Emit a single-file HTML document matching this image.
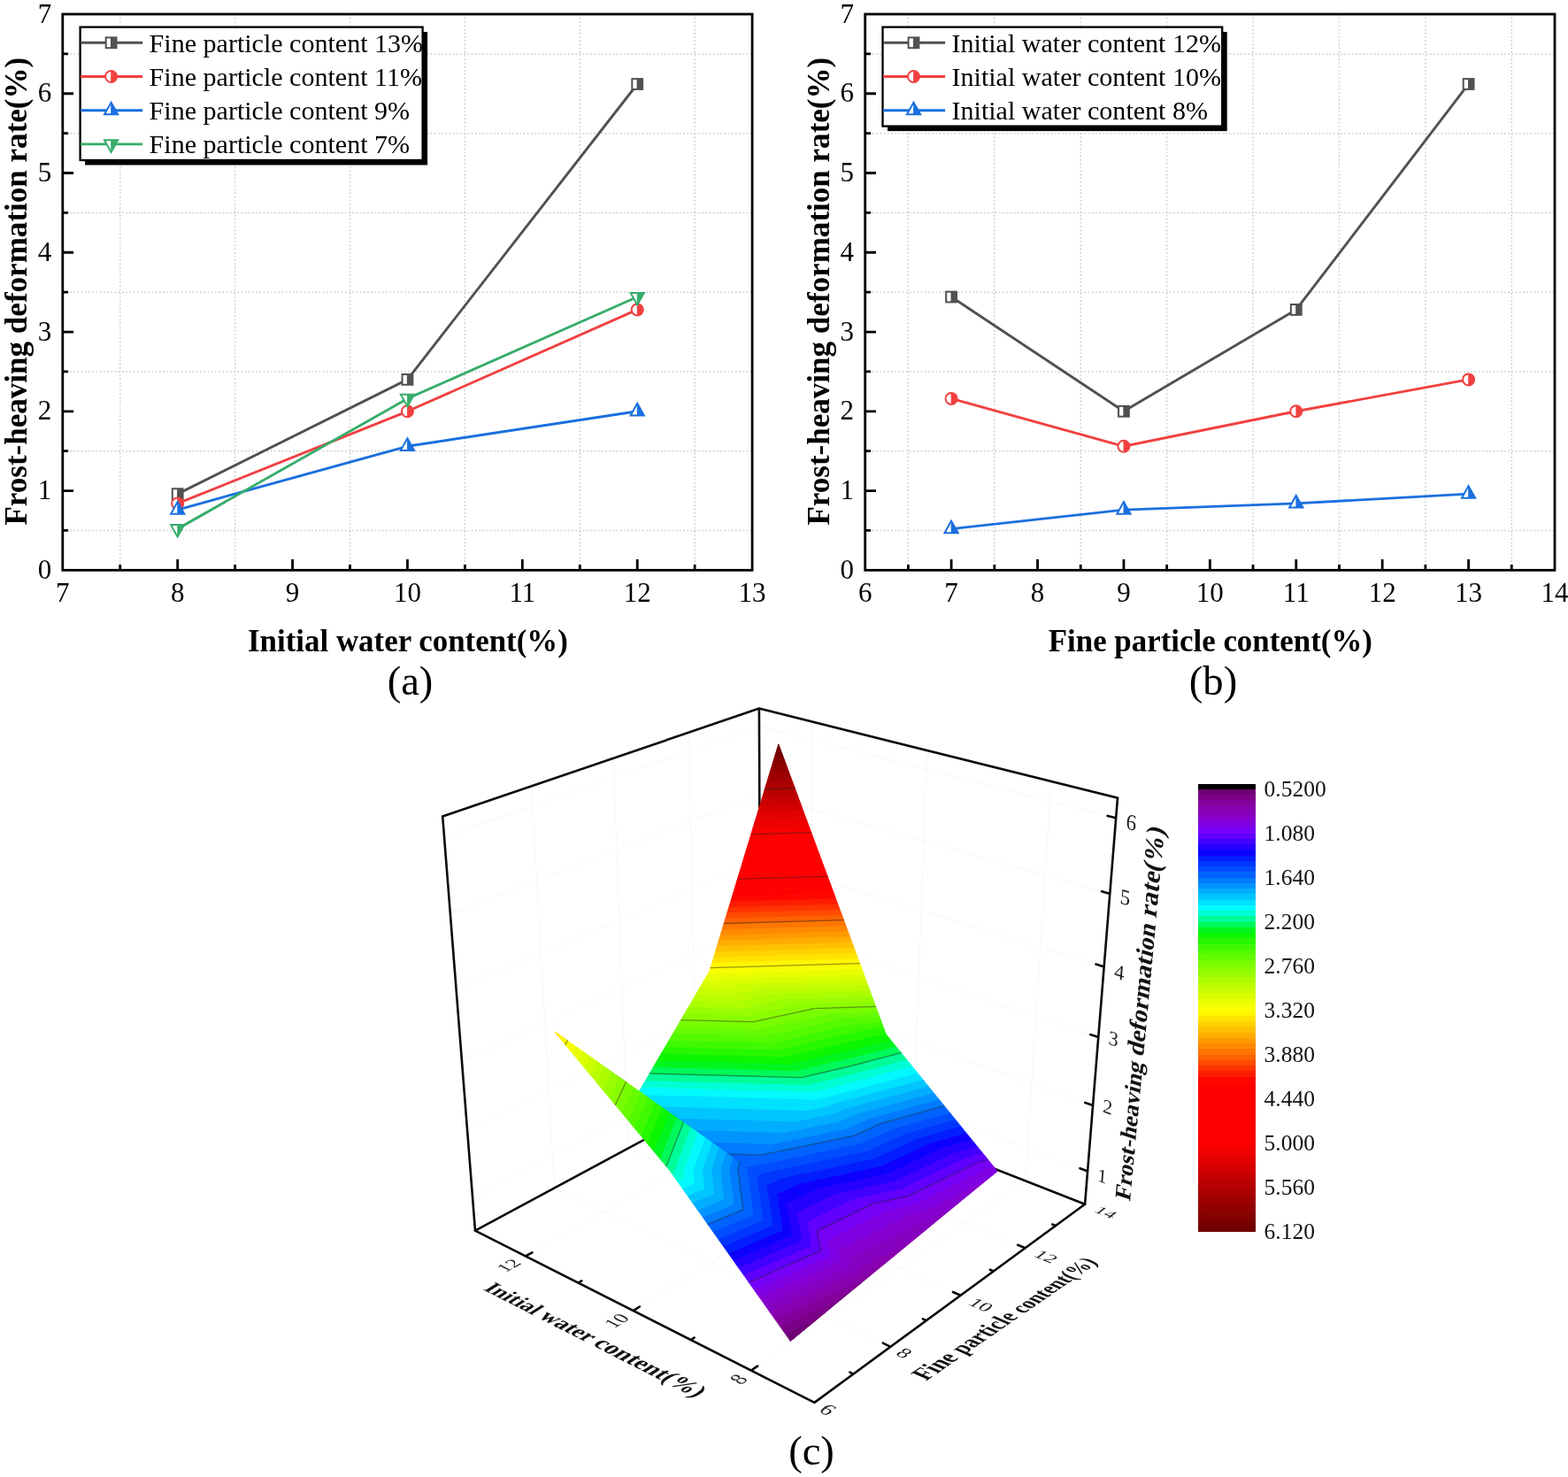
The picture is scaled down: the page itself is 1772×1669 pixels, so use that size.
<!DOCTYPE html>
<html lang="en"><head><meta charset="utf-8"><title>Frost-heaving deformation rate</title>
<style>
html,body{margin:0;padding:0;background:#fff;}
svg{display:block;font-family:'Liberation Serif','Times New Roman',serif;}
.tk{font-size:31px;fill:#000}
.ax{font-size:34.9px;font-weight:bold;fill:#000}
.lg{font-size:30.05px;fill:#000}
.tag{font-size:46.6px;fill:#000}
.cb{font-size:25.5px;fill:#111}
.t3{font-weight:bold;fill:#111}
.k3{fill:#222}
</style></head><body>
<svg width="1772" height="1669" viewBox="0 0 1772 1669" role="img" aria-label="Frost-heaving deformation rate charts">
<rect width="1772" height="1669" fill="#fff"/>
<g class="chart">
<path d="M135.74 16.00V644.30M265.63 16.00V644.30M395.51 16.00V644.30M525.39 16.00V644.30M655.28 16.00V644.30M785.16 16.00V644.30M70.80 599.42H850.10M70.80 509.66H850.10M70.80 419.91H850.10M70.80 330.15H850.10M70.80 240.39H850.10M70.80 150.64H850.10M70.80 60.88H850.10" fill="none" stroke="#c9c9c9" stroke-width="1.5" stroke-dasharray="1.6 2.6"/>
<path d="M135.74 644.30v-6.3M200.68 644.30v-12.3M265.63 644.30v-6.3M330.57 644.30v-12.3M395.51 644.30v-6.3M460.45 644.30v-12.3M525.39 644.30v-6.3M590.33 644.30v-12.3M655.28 644.30v-6.3M720.22 644.30v-12.3M785.16 644.30v-6.3M70.80 599.42h6.3M70.80 554.54h12.3M70.80 509.66h6.3M70.80 464.79h12.3M70.80 419.91h6.3M70.80 375.03h12.3M70.80 330.15h6.3M70.80 285.27h12.3M70.80 240.39h6.3M70.80 195.51h12.3M70.80 150.64h6.3M70.80 105.76h12.3M70.80 60.88h6.3" fill="none" stroke="#000" stroke-width="2.8"/>
<path d="M200.68 558.13 L460.45 428.88 L720.22 94.99" fill="none" stroke="#515151" stroke-width="2.9" stroke-linejoin="round"/>
<path d="M200.68 568.90 L460.45 464.79 L720.22 349.90" fill="none" stroke="#F14040" stroke-width="2.9" stroke-linejoin="round"/>
<path d="M200.68 576.08 L460.45 504.28 L720.22 464.79" fill="none" stroke="#1A6FDF" stroke-width="2.9" stroke-linejoin="round"/>
<path d="M200.68 597.63 L460.45 450.42 L720.22 335.54" fill="none" stroke="#37AD6B" stroke-width="2.9" stroke-linejoin="round"/>
<rect x="194.78" y="552.23" width="11.80" height="11.80" fill="#fff" stroke="#515151" stroke-width="2.0"/><rect x="200.08" y="552.23" width="6.50" height="11.80" fill="#515151"/>
<rect x="454.55" y="422.98" width="11.80" height="11.80" fill="#fff" stroke="#515151" stroke-width="2.0"/><rect x="459.85" y="422.98" width="6.50" height="11.80" fill="#515151"/>
<rect x="714.32" y="89.09" width="11.80" height="11.80" fill="#fff" stroke="#515151" stroke-width="2.0"/><rect x="719.62" y="89.09" width="6.50" height="11.80" fill="#515151"/>
<circle cx="200.68" cy="568.90" r="6.5" fill="#fff" stroke="#F14040" stroke-width="2.0"/><path d="M200.28 562.40 A6.5 6.5 0 0 1 200.28 575.40 Z" fill="#F14040"/>
<circle cx="460.45" cy="464.79" r="6.5" fill="#fff" stroke="#F14040" stroke-width="2.0"/><path d="M460.05 458.29 A6.5 6.5 0 0 1 460.05 471.29 Z" fill="#F14040"/>
<circle cx="720.22" cy="349.90" r="6.5" fill="#fff" stroke="#F14040" stroke-width="2.0"/><path d="M719.82 343.40 A6.5 6.5 0 0 1 719.82 356.40 Z" fill="#F14040"/>
<path d="M200.68 567.08 L208.28 580.68 L193.08 580.68 Z" fill="#fff" stroke="#1A6FDF" stroke-width="2.0" stroke-linejoin="miter"/><path d="M200.28 567.08 L208.28 580.68 L200.28 580.68 Z" fill="#1A6FDF"/>
<path d="M460.45 495.28 L468.05 508.88 L452.85 508.88 Z" fill="#fff" stroke="#1A6FDF" stroke-width="2.0" stroke-linejoin="miter"/><path d="M460.05 495.28 L468.05 508.88 L460.05 508.88 Z" fill="#1A6FDF"/>
<path d="M720.22 455.79 L727.82 469.39 L712.62 469.39 Z" fill="#fff" stroke="#1A6FDF" stroke-width="2.0" stroke-linejoin="miter"/><path d="M719.82 455.79 L727.82 469.39 L719.82 469.39 Z" fill="#1A6FDF"/>
<path d="M200.68 606.63 L208.28 593.03 L193.08 593.03 Z" fill="#fff" stroke="#37AD6B" stroke-width="2.0" stroke-linejoin="miter"/><path d="M200.28 606.63 L208.28 593.03 L200.28 593.03 Z" fill="#37AD6B"/>
<path d="M460.45 459.42 L468.05 445.82 L452.85 445.82 Z" fill="#fff" stroke="#37AD6B" stroke-width="2.0" stroke-linejoin="miter"/><path d="M460.05 459.42 L468.05 445.82 L460.05 445.82 Z" fill="#37AD6B"/>
<path d="M720.22 344.54 L727.82 330.94 L712.62 330.94 Z" fill="#fff" stroke="#37AD6B" stroke-width="2.0" stroke-linejoin="miter"/><path d="M719.82 344.54 L727.82 330.94 L719.82 330.94 Z" fill="#37AD6B"/>
<rect x="70.80" y="16.00" width="779.30" height="628.30" fill="none" stroke="#000" stroke-width="2.8"/>
<text x="70.80" y="680.30" text-anchor="middle" class="tk">7</text>
<text x="200.68" y="680.30" text-anchor="middle" class="tk">8</text>
<text x="330.57" y="680.30" text-anchor="middle" class="tk">9</text>
<text x="460.45" y="680.30" text-anchor="middle" class="tk">10</text>
<text x="590.33" y="680.30" text-anchor="middle" class="tk">11</text>
<text x="720.22" y="680.30" text-anchor="middle" class="tk">12</text>
<text x="850.10" y="680.30" text-anchor="middle" class="tk">13</text>
<text x="58.20" y="653.80" text-anchor="end" class="tk">0</text>
<text x="58.20" y="564.04" text-anchor="end" class="tk">1</text>
<text x="58.20" y="474.29" text-anchor="end" class="tk">2</text>
<text x="58.20" y="384.53" text-anchor="end" class="tk">3</text>
<text x="58.20" y="294.77" text-anchor="end" class="tk">4</text>
<text x="58.20" y="205.01" text-anchor="end" class="tk">5</text>
<text x="58.20" y="115.26" text-anchor="end" class="tk">6</text>
<text x="58.20" y="25.50" text-anchor="end" class="tk">7</text>
<text x="460.95" y="735.80" text-anchor="middle" class="ax">Initial water content(%)</text>
<text transform="translate(30.20 329.15) rotate(-90)" text-anchor="middle" class="ax" style="font-size:35.05px">Frost-heaving deformation rate(%)</text>
<text x="463.50" y="785.30" text-anchor="middle" class="tag">(a)</text>
<rect x="96.10" y="36.10" width="387.00" height="150.40" fill="#000"/>
<rect x="90.60" y="30.60" width="387.00" height="150.40" fill="#fff" stroke="#000" stroke-width="2.3"/>
<path d="M91.10 48.30H161.20" stroke="#515151" stroke-width="2.9"/>
<rect x="119.70" y="42.40" width="11.80" height="11.80" fill="#fff" stroke="#515151" stroke-width="2.0"/><rect x="125.00" y="42.40" width="6.50" height="11.80" fill="#515151"/>
<text x="168.60" y="58.50" class="lg">Fine particle content 13%</text>
<path d="M91.10 86.50H161.20" stroke="#F14040" stroke-width="2.9"/>
<circle cx="125.60" cy="86.50" r="6.5" fill="#fff" stroke="#F14040" stroke-width="2.0"/><path d="M125.20 80.00 A6.5 6.5 0 0 1 125.20 93.00 Z" fill="#F14040"/>
<text x="168.60" y="96.70" class="lg">Fine particle content 11%</text>
<path d="M91.10 124.70H161.20" stroke="#1A6FDF" stroke-width="2.9"/>
<path d="M125.60 115.70 L133.20 129.30 L118.00 129.30 Z" fill="#fff" stroke="#1A6FDF" stroke-width="2.0" stroke-linejoin="miter"/><path d="M125.20 115.70 L133.20 129.30 L125.20 129.30 Z" fill="#1A6FDF"/>
<text x="168.60" y="134.90" class="lg">Fine particle content 9%</text>
<path d="M91.10 162.90H161.20" stroke="#37AD6B" stroke-width="2.9"/>
<path d="M125.60 171.90 L133.20 158.30 L118.00 158.30 Z" fill="#fff" stroke="#37AD6B" stroke-width="2.0" stroke-linejoin="miter"/><path d="M125.20 171.90 L133.20 158.30 L125.20 158.30 Z" fill="#37AD6B"/>
<text x="168.60" y="173.10" class="lg">Fine particle content 7%</text>
</g>
<g class="chart">
<path d="M1026.41 16.00V644.30M1123.82 16.00V644.30M1221.23 16.00V644.30M1318.64 16.00V644.30M1416.06 16.00V644.30M1513.47 16.00V644.30M1610.88 16.00V644.30M1708.29 16.00V644.30M977.70 599.42H1757.00M977.70 509.66H1757.00M977.70 419.91H1757.00M977.70 330.15H1757.00M977.70 240.39H1757.00M977.70 150.64H1757.00M977.70 60.88H1757.00" fill="none" stroke="#c9c9c9" stroke-width="1.5" stroke-dasharray="1.6 2.6"/>
<path d="M1026.41 644.30v-6.3M1075.11 644.30v-12.3M1123.82 644.30v-6.3M1172.53 644.30v-12.3M1221.23 644.30v-6.3M1269.94 644.30v-12.3M1318.64 644.30v-6.3M1367.35 644.30v-12.3M1416.06 644.30v-6.3M1464.76 644.30v-12.3M1513.47 644.30v-6.3M1562.17 644.30v-12.3M1610.88 644.30v-6.3M1659.59 644.30v-12.3M1708.29 644.30v-6.3M977.70 599.42h6.3M977.70 554.54h12.3M977.70 509.66h6.3M977.70 464.79h12.3M977.70 419.91h6.3M977.70 375.03h12.3M977.70 330.15h6.3M977.70 285.27h12.3M977.70 240.39h6.3M977.70 195.51h12.3M977.70 150.64h6.3M977.70 105.76h12.3M977.70 60.88h6.3" fill="none" stroke="#000" stroke-width="2.8"/>
<path d="M1075.11 335.54 L1269.94 464.79 L1464.76 349.90 L1659.59 94.99" fill="none" stroke="#515151" stroke-width="2.9" stroke-linejoin="round"/>
<path d="M1075.11 450.42 L1269.94 504.28 L1464.76 464.79 L1659.59 428.88" fill="none" stroke="#F14040" stroke-width="2.9" stroke-linejoin="round"/>
<path d="M1075.11 597.63 L1269.94 576.08 L1464.76 568.90 L1659.59 558.13" fill="none" stroke="#1A6FDF" stroke-width="2.9" stroke-linejoin="round"/>
<rect x="1069.21" y="329.64" width="11.80" height="11.80" fill="#fff" stroke="#515151" stroke-width="2.0"/><rect x="1074.51" y="329.64" width="6.50" height="11.80" fill="#515151"/>
<rect x="1264.04" y="458.89" width="11.80" height="11.80" fill="#fff" stroke="#515151" stroke-width="2.0"/><rect x="1269.34" y="458.89" width="6.50" height="11.80" fill="#515151"/>
<rect x="1458.86" y="344.00" width="11.80" height="11.80" fill="#fff" stroke="#515151" stroke-width="2.0"/><rect x="1464.16" y="344.00" width="6.50" height="11.80" fill="#515151"/>
<rect x="1653.69" y="89.09" width="11.80" height="11.80" fill="#fff" stroke="#515151" stroke-width="2.0"/><rect x="1658.99" y="89.09" width="6.50" height="11.80" fill="#515151"/>
<circle cx="1075.11" cy="450.42" r="6.5" fill="#fff" stroke="#F14040" stroke-width="2.0"/><path d="M1074.71 443.92 A6.5 6.5 0 0 1 1074.71 456.92 Z" fill="#F14040"/>
<circle cx="1269.94" cy="504.28" r="6.5" fill="#fff" stroke="#F14040" stroke-width="2.0"/><path d="M1269.54 497.78 A6.5 6.5 0 0 1 1269.54 510.78 Z" fill="#F14040"/>
<circle cx="1464.76" cy="464.79" r="6.5" fill="#fff" stroke="#F14040" stroke-width="2.0"/><path d="M1464.36 458.29 A6.5 6.5 0 0 1 1464.36 471.29 Z" fill="#F14040"/>
<circle cx="1659.59" cy="428.88" r="6.5" fill="#fff" stroke="#F14040" stroke-width="2.0"/><path d="M1659.19 422.38 A6.5 6.5 0 0 1 1659.19 435.38 Z" fill="#F14040"/>
<path d="M1075.11 588.63 L1082.71 602.23 L1067.51 602.23 Z" fill="#fff" stroke="#1A6FDF" stroke-width="2.0" stroke-linejoin="miter"/><path d="M1074.71 588.63 L1082.71 602.23 L1074.71 602.23 Z" fill="#1A6FDF"/>
<path d="M1269.94 567.08 L1277.54 580.68 L1262.34 580.68 Z" fill="#fff" stroke="#1A6FDF" stroke-width="2.0" stroke-linejoin="miter"/><path d="M1269.54 567.08 L1277.54 580.68 L1269.54 580.68 Z" fill="#1A6FDF"/>
<path d="M1464.76 559.90 L1472.36 573.50 L1457.16 573.50 Z" fill="#fff" stroke="#1A6FDF" stroke-width="2.0" stroke-linejoin="miter"/><path d="M1464.36 559.90 L1472.36 573.50 L1464.36 573.50 Z" fill="#1A6FDF"/>
<path d="M1659.59 549.13 L1667.19 562.73 L1651.99 562.73 Z" fill="#fff" stroke="#1A6FDF" stroke-width="2.0" stroke-linejoin="miter"/><path d="M1659.19 549.13 L1667.19 562.73 L1659.19 562.73 Z" fill="#1A6FDF"/>
<rect x="977.70" y="16.00" width="779.30" height="628.30" fill="none" stroke="#000" stroke-width="2.8"/>
<text x="977.70" y="680.30" text-anchor="middle" class="tk">6</text>
<text x="1075.11" y="680.30" text-anchor="middle" class="tk">7</text>
<text x="1172.53" y="680.30" text-anchor="middle" class="tk">8</text>
<text x="1269.94" y="680.30" text-anchor="middle" class="tk">9</text>
<text x="1367.35" y="680.30" text-anchor="middle" class="tk">10</text>
<text x="1464.76" y="680.30" text-anchor="middle" class="tk">11</text>
<text x="1562.17" y="680.30" text-anchor="middle" class="tk">12</text>
<text x="1659.59" y="680.30" text-anchor="middle" class="tk">13</text>
<text x="1757.00" y="680.30" text-anchor="middle" class="tk">14</text>
<text x="965.10" y="653.80" text-anchor="end" class="tk">0</text>
<text x="965.10" y="564.04" text-anchor="end" class="tk">1</text>
<text x="965.10" y="474.29" text-anchor="end" class="tk">2</text>
<text x="965.10" y="384.53" text-anchor="end" class="tk">3</text>
<text x="965.10" y="294.77" text-anchor="end" class="tk">4</text>
<text x="965.10" y="205.01" text-anchor="end" class="tk">5</text>
<text x="965.10" y="115.26" text-anchor="end" class="tk">6</text>
<text x="965.10" y="25.50" text-anchor="end" class="tk">7</text>
<text x="1367.85" y="735.80" text-anchor="middle" class="ax">Fine particle content(%)</text>
<text transform="translate(937.10 329.15) rotate(-90)" text-anchor="middle" class="ax" style="font-size:35.05px">Frost-heaving deformation rate(%)</text>
<text x="1371.00" y="785.30" text-anchor="middle" class="tag">(b)</text>
<rect x="1003.00" y="36.10" width="383.70" height="112.00" fill="#000"/>
<rect x="997.50" y="30.60" width="383.70" height="112.00" fill="#fff" stroke="#000" stroke-width="2.3"/>
<path d="M998.00 48.30H1068.10" stroke="#515151" stroke-width="2.9"/>
<rect x="1026.60" y="42.40" width="11.80" height="11.80" fill="#fff" stroke="#515151" stroke-width="2.0"/><rect x="1031.90" y="42.40" width="6.50" height="11.80" fill="#515151"/>
<text x="1075.50" y="58.50" class="lg">Initial water content 12%</text>
<path d="M998.00 86.50H1068.10" stroke="#F14040" stroke-width="2.9"/>
<circle cx="1032.50" cy="86.50" r="6.5" fill="#fff" stroke="#F14040" stroke-width="2.0"/><path d="M1032.10 80.00 A6.5 6.5 0 0 1 1032.10 93.00 Z" fill="#F14040"/>
<text x="1075.50" y="96.70" class="lg">Initial water content 10%</text>
<path d="M998.00 124.70H1068.10" stroke="#1A6FDF" stroke-width="2.9"/>
<path d="M1032.50 115.70 L1040.10 129.30 L1024.90 129.30 Z" fill="#fff" stroke="#1A6FDF" stroke-width="2.0" stroke-linejoin="miter"/><path d="M1032.10 115.70 L1040.10 129.30 L1032.10 129.30 Z" fill="#1A6FDF"/>
<text x="1075.50" y="134.90" class="lg">Initial water content 8%</text>
</g>
<defs><filter id="soft" filterUnits="userSpaceOnUse" x="440" y="780" width="1120" height="860" color-interpolation-filters="sRGB"><feGaussianBlur stdDeviation="0.55"/></filter></defs>
<g class="c3d" filter="url(#soft)">
<path d="M848.9 1548.6L1158.8 1334.3M1158.8 1334.3L1187.9 883.0M715.6 1481.1L1032.0 1284.7M1032.0 1284.7L1047.4 847.9M594.0 1419.4L914.8 1238.8M914.8 1238.8L918.4 815.7M1006.4 1521.8L626.5 1342.5M626.5 1342.5L600.5 888.3M1085.6 1463.8L709.7 1297.7M709.7 1297.7L693.0 856.8M1158.6 1410.3L787.1 1256.0M787.1 1256.0L778.5 827.6M534.1 1352.8L859.3 1183.0M859.3 1183.0L1229.1 1323.5M528.1 1277.0L859.1 1114.9M859.1 1114.9L1235.1 1249.1M521.9 1198.6L858.8 1044.8M858.8 1044.8L1241.3 1172.1M515.6 1117.3L858.5 972.5M858.5 972.5L1247.7 1092.4M508.9 1033.0L858.3 897.9M858.3 897.9L1254.3 1009.9M502.1 945.6L858.0 820.9M858.0 820.9L1261.2 924.3" fill="none" stroke="#f3f3f3" stroke-width="1" stroke-dasharray="3 1.5"/>
<path d="M537.0 1390.6L859.5 1217.1M1226.1 1360.7L859.5 1217.1M859.5 1217.1L857.9 800.6M500.2 922.5L857.9 800.6M857.9 800.6L1263.0 901.7" fill="none" stroke="#0a0a0a" stroke-width="2.6" stroke-linecap="round" stroke-linejoin="round"/>
<path d="M1000.8 1167.7L1001.2 1168.6L998.9 1167.8Z" fill="#0cf600" stroke="#0cf600" stroke-width="1"/>
<path d="M998.6 1161.6L1000.8 1167.7L998.9 1167.8L983.2 1162.1Z" fill="#26f800" stroke="#26f800" stroke-width="1"/>
<path d="M996.4 1155.6L998.6 1161.6L983.2 1162.1L967.5 1156.5Z" fill="#3ff900" stroke="#3ff900" stroke-width="1"/>
<path d="M994.1 1149.5L996.4 1155.6L967.5 1156.5L951.7 1150.9Z" fill="#53fa00" stroke="#53fa00" stroke-width="1"/>
<path d="M991.9 1143.5L994.1 1149.5L951.7 1150.9L935.9 1145.2Z" fill="#66fb00" stroke="#66fb00" stroke-width="1"/>
<path d="M989.6 1137.4L991.9 1143.5L935.9 1145.2L920.1 1139.6Z" fill="#79fc00" stroke="#79fc00" stroke-width="1"/>
<path d="M987.4 1131.3L989.6 1137.4L920.1 1139.6L904.3 1133.9Z" fill="#8afc00" stroke="#8afc00" stroke-width="1"/>
<path d="M985.1 1125.3L987.4 1131.3L904.3 1133.9L888.4 1128.2Z" fill="#9afc00" stroke="#9afc00" stroke-width="1"/>
<path d="M982.9 1119.2L985.1 1125.3L888.4 1128.2L872.5 1122.6Z" fill="#abfd00" stroke="#abfd00" stroke-width="1"/>
<path d="M980.6 1113.1L982.9 1119.2L872.5 1122.6L856.6 1116.9Z" fill="#bbfd00" stroke="#bbfd00" stroke-width="1"/>
<path d="M978.4 1107.0L980.6 1113.1L856.6 1116.9L840.7 1111.2Z" fill="#cafd00" stroke="#cafd00" stroke-width="1"/>
<path d="M976.1 1100.9L978.4 1107.0L840.7 1111.2L824.7 1105.5Z" fill="#dafe00" stroke="#dafe00" stroke-width="1"/>
<path d="M973.9 1094.8L976.1 1100.9L824.7 1105.5L808.7 1099.8Z" fill="#e8fe00" stroke="#e8fe00" stroke-width="1"/>
<path d="M801.9 1097.3L803.0 1093.7L971.6 1088.7L973.9 1094.8L808.7 1099.8Z" fill="#f8ff00" stroke="#f8ff00" stroke-width="1"/>
<path d="M803.0 1093.7L804.9 1087.5L969.3 1082.6L971.6 1088.7Z" fill="#fff600" stroke="#fff600" stroke-width="1"/>
<path d="M804.9 1087.5L806.8 1081.2L967.1 1076.5L969.3 1082.6Z" fill="#ffe400" stroke="#ffe400" stroke-width="1"/>
<path d="M806.8 1081.2L808.7 1074.9L964.8 1070.4L967.1 1076.5Z" fill="#ffd200" stroke="#ffd200" stroke-width="1"/>
<path d="M808.7 1074.9L810.6 1068.7L962.5 1064.2L964.8 1070.4Z" fill="#ffc000" stroke="#ffc000" stroke-width="1"/>
<path d="M810.6 1068.7L812.5 1062.4L960.3 1058.1L962.5 1064.2Z" fill="#ffae00" stroke="#ffae00" stroke-width="1"/>
<path d="M812.5 1062.4L814.4 1056.1L958.0 1052.0L960.3 1058.1Z" fill="#ff9b00" stroke="#ff9b00" stroke-width="1"/>
<path d="M814.4 1056.1L816.3 1049.8L955.7 1045.8L958.0 1052.0Z" fill="#ff8900" stroke="#ff8900" stroke-width="1"/>
<path d="M816.3 1049.8L818.2 1043.5L953.5 1039.7L955.7 1045.8Z" fill="#ff7700" stroke="#ff7700" stroke-width="1"/>
<path d="M818.2 1043.5L820.1 1037.2L951.2 1033.6L953.5 1039.7Z" fill="#ff6200" stroke="#ff6200" stroke-width="1"/>
<path d="M820.1 1037.2L822.0 1031.0L948.9 1027.4L951.2 1033.6Z" fill="#ff4b00" stroke="#ff4b00" stroke-width="1"/>
<path d="M822.0 1031.0L823.9 1024.7L946.6 1021.3L948.9 1027.4Z" fill="#ff3400" stroke="#ff3400" stroke-width="1"/>
<path d="M823.9 1024.7L825.9 1018.4L944.3 1015.1L946.6 1021.3Z" fill="#ff1d00" stroke="#ff1d00" stroke-width="1"/>
<path d="M825.9 1018.4L827.8 1012.1L942.1 1008.9L944.3 1015.1Z" fill="#ff0700" stroke="#ff0700" stroke-width="1"/>
<path d="M827.8 1012.1L829.7 1005.8L939.8 1002.8L942.1 1008.9Z" fill="#ff0000" stroke="#ff0000" stroke-width="1"/>
<path d="M829.7 1005.8L831.6 999.4L937.5 996.6L939.8 1002.8Z" fill="#ff0000" stroke="#ff0000" stroke-width="1"/>
<path d="M831.6 999.4L833.5 993.1L935.2 990.4L937.5 996.6Z" fill="#fe0000" stroke="#fe0000" stroke-width="1"/>
<path d="M833.5 993.1L835.4 986.8L932.9 984.2L935.2 990.4Z" fill="#fe0000" stroke="#fe0000" stroke-width="1"/>
<path d="M835.4 986.8L837.4 980.5L930.6 978.1L932.9 984.2Z" fill="#fe0000" stroke="#fe0000" stroke-width="1"/>
<path d="M837.4 980.5L839.3 974.2L928.3 971.9L930.6 978.1Z" fill="#fd0000" stroke="#fd0000" stroke-width="1"/>
<path d="M839.3 974.2L841.2 967.9L926.0 965.7L928.3 971.9Z" fill="#fd0000" stroke="#fd0000" stroke-width="1"/>
<path d="M841.2 967.9L843.1 961.5L923.7 959.5L926.0 965.7Z" fill="#fd0000" stroke="#fd0000" stroke-width="1"/>
<path d="M843.1 961.5L845.0 955.2L921.4 953.3L923.7 959.5Z" fill="#fd0000" stroke="#fd0000" stroke-width="1"/>
<path d="M845.0 955.2L847.0 948.9L919.1 947.1L921.4 953.3Z" fill="#fc0000" stroke="#fc0000" stroke-width="1"/>
<path d="M847.0 948.9L848.9 942.6L916.8 940.8L919.1 947.1Z" fill="#fc0000" stroke="#fc0000" stroke-width="1"/>
<path d="M848.9 942.6L850.8 936.2L914.5 934.6L916.8 940.8Z" fill="#f80000" stroke="#f80000" stroke-width="1"/>
<path d="M850.8 936.2L852.7 929.9L912.2 928.4L914.5 934.6Z" fill="#f10000" stroke="#f10000" stroke-width="1"/>
<path d="M852.7 929.9L854.7 923.5L909.9 922.2L912.2 928.4Z" fill="#e90000" stroke="#e90000" stroke-width="1"/>
<path d="M854.7 923.5L856.6 917.2L907.6 915.9L909.9 922.2Z" fill="#e10000" stroke="#e10000" stroke-width="1"/>
<path d="M856.6 917.2L858.5 910.8L905.3 909.7L907.6 915.9Z" fill="#d60000" stroke="#d60000" stroke-width="1"/>
<path d="M858.5 910.8L860.5 904.5L903.0 903.5L905.3 909.7Z" fill="#cc0000" stroke="#cc0000" stroke-width="1"/>
<path d="M860.5 904.5L862.4 898.1L900.7 897.2L903.0 903.5Z" fill="#c20000" stroke="#c20000" stroke-width="1"/>
<path d="M862.4 898.1L864.3 891.8L898.4 891.0L900.7 897.2Z" fill="#b70000" stroke="#b70000" stroke-width="1"/>
<path d="M864.3 891.8L866.2 885.4L896.1 884.7L898.4 891.0Z" fill="#ae0000" stroke="#ae0000" stroke-width="1"/>
<path d="M866.2 885.4L868.2 879.0L893.7 878.5L896.1 884.7Z" fill="#a50000" stroke="#a50000" stroke-width="1"/>
<path d="M868.2 879.0L870.1 872.7L891.4 872.2L893.7 878.5Z" fill="#9c0000" stroke="#9c0000" stroke-width="1"/>
<path d="M870.1 872.7L872.1 866.3L889.1 865.9L891.4 872.2Z" fill="#930000" stroke="#930000" stroke-width="1"/>
<path d="M872.1 866.3L874.0 859.9L886.8 859.6L889.1 865.9Z" fill="#8b0000" stroke="#8b0000" stroke-width="1"/>
<path d="M874.0 859.9L875.9 853.6L884.5 853.4L886.8 859.6Z" fill="#810000" stroke="#810000" stroke-width="1"/>
<path d="M875.9 853.6L877.9 847.2L882.1 847.1L884.5 853.4Z" fill="#780000" stroke="#780000" stroke-width="1"/>
<path d="M877.9 847.2L879.8 840.8L882.1 847.1Z" fill="#6f0000" stroke="#6f0000" stroke-width="1"/>
<path d="M989.6 1137.4L920.1 1139.6M803.0 1093.7L971.6 1088.7M818.2 1043.5L953.5 1039.7M833.5 993.1L935.2 990.4M848.9 942.6L916.8 940.8M864.3 891.8L898.4 891.0" fill="none" stroke="#222" stroke-opacity="0.45" stroke-width="1.3" stroke-linecap="round"/>
<path d="M919.6 1233.6L925.5 1240.5L937.2 1229.4Z" fill="#00fafd" stroke="#00fafd" stroke-width="1"/>
<path d="M912.7 1225.6L919.6 1233.6L937.2 1229.4L950.6 1216.6Z" fill="#00fed4" stroke="#00fed4" stroke-width="1"/>
<path d="M905.9 1217.7L912.7 1225.6L950.6 1216.6L963.9 1204.0Z" fill="#00fc99" stroke="#00fc99" stroke-width="1"/>
<path d="M899.0 1209.8L905.9 1217.7L963.9 1204.0L977.1 1191.4Z" fill="#00f95a" stroke="#00f95a" stroke-width="1"/>
<path d="M892.2 1201.9L899.0 1209.8L977.1 1191.4L990.1 1179.1Z" fill="#00f61e" stroke="#00f61e" stroke-width="1"/>
<path d="M885.4 1194.0L892.2 1201.9L990.1 1179.1L1001.2 1168.6L998.9 1167.8Z" fill="#0cf600" stroke="#0cf600" stroke-width="1"/>
<path d="M878.6 1186.1L885.4 1194.0L998.9 1167.8L983.2 1162.1Z" fill="#26f800" stroke="#26f800" stroke-width="1"/>
<path d="M871.8 1178.2L878.6 1186.1L983.2 1162.1L967.5 1156.5Z" fill="#3ff900" stroke="#3ff900" stroke-width="1"/>
<path d="M865.0 1170.4L871.8 1178.2L967.5 1156.5L951.7 1150.9Z" fill="#53fa00" stroke="#53fa00" stroke-width="1"/>
<path d="M858.2 1162.6L865.0 1170.4L951.7 1150.9L935.9 1145.2Z" fill="#66fb00" stroke="#66fb00" stroke-width="1"/>
<path d="M851.5 1154.7L858.2 1162.6L935.9 1145.2L920.1 1139.6Z" fill="#79fc00" stroke="#79fc00" stroke-width="1"/>
<path d="M844.8 1147.0L851.5 1154.7L920.1 1139.6L904.3 1133.9Z" fill="#8afc00" stroke="#8afc00" stroke-width="1"/>
<path d="M838.1 1139.2L844.8 1147.0L904.3 1133.9L888.4 1128.2Z" fill="#9afc00" stroke="#9afc00" stroke-width="1"/>
<path d="M831.4 1131.4L838.1 1139.2L888.4 1128.2L872.5 1122.6Z" fill="#abfd00" stroke="#abfd00" stroke-width="1"/>
<path d="M824.7 1123.7L831.4 1131.4L872.5 1122.6L856.6 1116.9Z" fill="#bbfd00" stroke="#bbfd00" stroke-width="1"/>
<path d="M818.0 1116.0L824.7 1123.7L856.6 1116.9L840.7 1111.2Z" fill="#cafd00" stroke="#cafd00" stroke-width="1"/>
<path d="M811.4 1108.3L818.0 1116.0L840.7 1111.2L824.7 1105.5Z" fill="#dafe00" stroke="#dafe00" stroke-width="1"/>
<path d="M804.7 1100.6L811.4 1108.3L824.7 1105.5L808.7 1099.8Z" fill="#e8fe00" stroke="#e8fe00" stroke-width="1"/>
<path d="M801.9 1097.3L804.7 1100.6L808.7 1099.8Z" fill="#f8ff00" stroke="#f8ff00" stroke-width="1"/>
<path d="M905.9 1217.7L963.9 1204.0M851.5 1154.7L920.1 1139.6" fill="none" stroke="#222" stroke-opacity="0.45" stroke-width="1.3" stroke-linecap="round"/>
<path d="M1122.6 1318.0L1127.0 1323.4L1117.5 1319.5Z" fill="#7f00e3" stroke="#7f00e3" stroke-width="1"/>
<path d="M1116.4 1310.3L1122.6 1318.0L1117.5 1319.5L1104.0 1314.0Z" fill="#7500f6" stroke="#7500f6" stroke-width="1"/>
<path d="M1110.2 1302.7L1116.4 1310.3L1104.0 1314.0L1090.6 1308.4Z" fill="#6100ff" stroke="#6100ff" stroke-width="1"/>
<path d="M1104.0 1295.1L1110.2 1302.7L1090.6 1308.4L1077.1 1302.9Z" fill="#4200ff" stroke="#4200ff" stroke-width="1"/>
<path d="M1097.8 1287.5L1104.0 1295.1L1077.1 1302.9L1063.6 1297.3Z" fill="#2500ff" stroke="#2500ff" stroke-width="1"/>
<path d="M1091.6 1279.9L1097.8 1287.5L1063.6 1297.3L1050.1 1291.8Z" fill="#0d00ff" stroke="#0d00ff" stroke-width="1"/>
<path d="M1085.4 1272.3L1091.6 1279.9L1050.1 1291.8L1036.6 1286.2Z" fill="#021eff" stroke="#021eff" stroke-width="1"/>
<path d="M1079.3 1264.7L1085.4 1272.3L1036.6 1286.2L1023.1 1280.6Z" fill="#0037ff" stroke="#0037ff" stroke-width="1"/>
<path d="M1073.2 1257.2L1079.3 1264.7L1023.1 1280.6L1009.5 1275.0Z" fill="#004dff" stroke="#004dff" stroke-width="1"/>
<path d="M1067.0 1249.6L1073.2 1257.2L1009.5 1275.0L995.9 1269.4Z" fill="#0063ff" stroke="#0063ff" stroke-width="1"/>
<path d="M1060.9 1242.1L1067.0 1249.6L995.9 1269.4L982.2 1263.8Z" fill="#007aff" stroke="#007aff" stroke-width="1"/>
<path d="M1054.8 1234.6L1060.9 1242.1L982.2 1263.8L968.6 1258.2Z" fill="#0094ff" stroke="#0094ff" stroke-width="1"/>
<path d="M1048.7 1227.1L1054.8 1234.6L968.6 1258.2L954.9 1252.6Z" fill="#00adff" stroke="#00adff" stroke-width="1"/>
<path d="M1042.6 1219.6L1048.7 1227.1L954.9 1252.6L941.2 1246.9Z" fill="#00c6ff" stroke="#00c6ff" stroke-width="1"/>
<path d="M1036.5 1212.1L1042.6 1219.6L941.2 1246.9L927.5 1241.3Z" fill="#00e1ff" stroke="#00e1ff" stroke-width="1"/>
<path d="M925.5 1240.5L937.2 1229.4L1030.5 1204.6L1036.5 1212.1L927.5 1241.3Z" fill="#00fafd" stroke="#00fafd" stroke-width="1"/>
<path d="M937.2 1229.4L950.6 1216.6L1024.4 1197.2L1030.5 1204.6Z" fill="#00fed4" stroke="#00fed4" stroke-width="1"/>
<path d="M950.6 1216.6L963.9 1204.0L1018.4 1189.7L1024.4 1197.2Z" fill="#00fc99" stroke="#00fc99" stroke-width="1"/>
<path d="M963.9 1204.0L977.1 1191.4L1012.3 1182.3L1018.4 1189.7Z" fill="#00f95a" stroke="#00f95a" stroke-width="1"/>
<path d="M977.1 1191.4L990.1 1179.1L1006.3 1174.9L1012.3 1182.3Z" fill="#00f61e" stroke="#00f61e" stroke-width="1"/>
<path d="M990.1 1179.1L1001.2 1168.6L1006.3 1174.9Z" fill="#0cf600" stroke="#0cf600" stroke-width="1"/>
<path d="M1116.4 1310.3L1104.0 1314.0M1067.0 1249.6L995.9 1269.4M963.9 1204.0L1018.4 1189.7" fill="none" stroke="#222" stroke-opacity="0.45" stroke-width="1.3" stroke-linecap="round"/>
<path d="M721.5 1234.7L725.3 1228.2L919.6 1233.6L925.5 1240.5Z" fill="#00fafd" stroke="#00fafd" stroke-width="1"/>
<path d="M725.3 1228.2L729.8 1220.6L912.7 1225.6L919.6 1233.6Z" fill="#00fed4" stroke="#00fed4" stroke-width="1"/>
<path d="M729.8 1220.6L734.2 1213.0L905.9 1217.7L912.7 1225.6Z" fill="#00fc99" stroke="#00fc99" stroke-width="1"/>
<path d="M734.2 1213.0L738.7 1205.4L899.0 1209.8L905.9 1217.7Z" fill="#00f95a" stroke="#00f95a" stroke-width="1"/>
<path d="M738.7 1205.4L743.1 1197.8L892.2 1201.9L899.0 1209.8Z" fill="#00f61e" stroke="#00f61e" stroke-width="1"/>
<path d="M743.1 1197.8L747.5 1190.2L885.4 1194.0L892.2 1201.9Z" fill="#0cf600" stroke="#0cf600" stroke-width="1"/>
<path d="M747.5 1190.2L752.0 1182.7L878.6 1186.1L885.4 1194.0Z" fill="#26f800" stroke="#26f800" stroke-width="1"/>
<path d="M752.0 1182.7L756.4 1175.1L871.8 1178.2L878.6 1186.1Z" fill="#3ff900" stroke="#3ff900" stroke-width="1"/>
<path d="M756.4 1175.1L760.8 1167.6L865.0 1170.4L871.8 1178.2Z" fill="#53fa00" stroke="#53fa00" stroke-width="1"/>
<path d="M760.8 1167.6L765.2 1160.1L858.2 1162.6L865.0 1170.4Z" fill="#66fb00" stroke="#66fb00" stroke-width="1"/>
<path d="M765.2 1160.1L769.5 1152.6L851.5 1154.7L858.2 1162.6Z" fill="#79fc00" stroke="#79fc00" stroke-width="1"/>
<path d="M769.5 1152.6L773.9 1145.1L844.8 1147.0L851.5 1154.7Z" fill="#8afc00" stroke="#8afc00" stroke-width="1"/>
<path d="M773.9 1145.1L778.3 1137.6L838.1 1139.2L844.8 1147.0Z" fill="#9afc00" stroke="#9afc00" stroke-width="1"/>
<path d="M778.3 1137.6L782.7 1130.2L831.4 1131.4L838.1 1139.2Z" fill="#abfd00" stroke="#abfd00" stroke-width="1"/>
<path d="M782.7 1130.2L787.0 1122.7L824.7 1123.7L831.4 1131.4Z" fill="#bbfd00" stroke="#bbfd00" stroke-width="1"/>
<path d="M787.0 1122.7L791.4 1115.3L818.0 1116.0L824.7 1123.7Z" fill="#cafd00" stroke="#cafd00" stroke-width="1"/>
<path d="M791.4 1115.3L795.7 1107.9L811.4 1108.3L818.0 1116.0Z" fill="#dafe00" stroke="#dafe00" stroke-width="1"/>
<path d="M795.7 1107.9L800.0 1100.5L804.7 1100.6L811.4 1108.3Z" fill="#e8fe00" stroke="#e8fe00" stroke-width="1"/>
<path d="M800.0 1100.5L801.9 1097.3L804.7 1100.6Z" fill="#f8ff00" stroke="#f8ff00" stroke-width="1"/>
<path d="M734.2 1213.0L905.9 1217.7M769.5 1152.6L851.5 1154.7" fill="none" stroke="#222" stroke-opacity="0.45" stroke-width="1.3" stroke-linecap="round"/>
<path d="M1051.4 1377.1L1054.8 1380.8L1073.4 1366.1Z" fill="#8600c0" stroke="#8600c0" stroke-width="1"/>
<path d="M1043.5 1368.4L1051.4 1377.1L1073.4 1366.1L1115.3 1332.7Z" fill="#8500d1" stroke="#8500d1" stroke-width="1"/>
<path d="M1035.5 1359.8L1043.5 1368.4L1115.3 1332.7L1127.0 1323.4L1117.5 1319.5Z" fill="#7f00e3" stroke="#7f00e3" stroke-width="1"/>
<path d="M1027.6 1351.2L1035.5 1359.8L1117.5 1319.5L1104.0 1314.0Z" fill="#7500f6" stroke="#7500f6" stroke-width="1"/>
<path d="M1019.7 1342.6L1027.6 1351.2L1104.0 1314.0L1090.6 1308.4Z" fill="#6100ff" stroke="#6100ff" stroke-width="1"/>
<path d="M1011.8 1334.1L1019.7 1342.6L1090.6 1308.4L1077.1 1302.9Z" fill="#4200ff" stroke="#4200ff" stroke-width="1"/>
<path d="M1004.0 1325.6L1011.8 1334.1L1077.1 1302.9L1063.6 1297.3Z" fill="#2500ff" stroke="#2500ff" stroke-width="1"/>
<path d="M996.1 1317.1L1004.0 1325.6L1063.6 1297.3L1050.1 1291.8Z" fill="#0d00ff" stroke="#0d00ff" stroke-width="1"/>
<path d="M988.3 1308.6L996.1 1317.1L1050.1 1291.8L1036.6 1286.2Z" fill="#021eff" stroke="#021eff" stroke-width="1"/>
<path d="M980.5 1300.1L988.3 1308.6L1036.6 1286.2L1023.1 1280.6Z" fill="#0037ff" stroke="#0037ff" stroke-width="1"/>
<path d="M972.8 1291.7L980.5 1300.1L1023.1 1280.6L1009.5 1275.0Z" fill="#004dff" stroke="#004dff" stroke-width="1"/>
<path d="M965.0 1283.3L972.8 1291.7L1009.5 1275.0L995.9 1269.4Z" fill="#0063ff" stroke="#0063ff" stroke-width="1"/>
<path d="M957.3 1274.9L965.0 1283.3L995.9 1269.4L982.2 1263.8Z" fill="#007aff" stroke="#007aff" stroke-width="1"/>
<path d="M949.6 1266.6L957.3 1274.9L982.2 1263.8L968.6 1258.2Z" fill="#0094ff" stroke="#0094ff" stroke-width="1"/>
<path d="M941.9 1258.2L949.6 1266.6L968.6 1258.2L954.9 1252.6Z" fill="#00adff" stroke="#00adff" stroke-width="1"/>
<path d="M934.3 1249.9L941.9 1258.2L954.9 1252.6L941.2 1246.9Z" fill="#00c6ff" stroke="#00c6ff" stroke-width="1"/>
<path d="M926.6 1241.6L934.3 1249.9L941.2 1246.9L927.5 1241.3Z" fill="#00e1ff" stroke="#00e1ff" stroke-width="1"/>
<path d="M925.5 1240.5L926.6 1241.6L927.5 1241.3Z" fill="#00fafd" stroke="#00fafd" stroke-width="1"/>
<path d="M1027.6 1351.2L1104.0 1314.0M965.0 1283.3L995.9 1269.4" fill="none" stroke="#222" stroke-opacity="0.45" stroke-width="1.3" stroke-linecap="round"/>
<path d="M842.2 1318.0L845.1 1320.0L846.9 1318.2Z" fill="#004dff" stroke="#004dff" stroke-width="1"/>
<path d="M821.9 1304.1L842.2 1318.0L846.9 1318.2L860.1 1305.2Z" fill="#0063ff" stroke="#0063ff" stroke-width="1"/>
<path d="M802.0 1290.3L821.9 1304.1L860.1 1305.2L873.1 1292.4Z" fill="#007aff" stroke="#007aff" stroke-width="1"/>
<path d="M782.2 1276.6L802.0 1290.3L873.1 1292.4L885.9 1279.6Z" fill="#0094ff" stroke="#0094ff" stroke-width="1"/>
<path d="M762.7 1263.1L782.2 1276.6L885.9 1279.6L898.7 1267.0Z" fill="#00adff" stroke="#00adff" stroke-width="1"/>
<path d="M743.3 1249.8L762.7 1263.1L898.7 1267.0L911.3 1254.6Z" fill="#00c6ff" stroke="#00c6ff" stroke-width="1"/>
<path d="M724.2 1236.6L743.3 1249.8L911.3 1254.6L923.8 1242.2Z" fill="#00e1ff" stroke="#00e1ff" stroke-width="1"/>
<path d="M721.5 1234.7L724.2 1236.6L923.8 1242.2L925.5 1240.5Z" fill="#00fafd" stroke="#00fafd" stroke-width="1"/>
<path d="M821.9 1304.1L860.1 1305.2" fill="none" stroke="#222" stroke-opacity="0.45" stroke-width="1.3" stroke-linecap="round"/>
<path d="M1051.4 1377.1L1054.8 1380.8L1046.2 1378.3Z" fill="#8600c0" stroke="#8600c0" stroke-width="1"/>
<path d="M1043.5 1368.4L1051.4 1377.1L1046.2 1378.3L1025.9 1372.4Z" fill="#8500d1" stroke="#8500d1" stroke-width="1"/>
<path d="M1035.5 1359.8L1043.5 1368.4L1025.9 1372.4L1005.6 1366.5Z" fill="#7f00e3" stroke="#7f00e3" stroke-width="1"/>
<path d="M1027.6 1351.2L1035.5 1359.8L1005.6 1366.5L985.3 1360.6Z" fill="#7500f6" stroke="#7500f6" stroke-width="1"/>
<path d="M1019.7 1342.6L1027.6 1351.2L985.3 1360.6L964.9 1354.7Z" fill="#6100ff" stroke="#6100ff" stroke-width="1"/>
<path d="M1011.8 1334.1L1019.7 1342.6L964.9 1354.7L944.5 1348.8Z" fill="#4200ff" stroke="#4200ff" stroke-width="1"/>
<path d="M1004.0 1325.6L1011.8 1334.1L944.5 1348.8L924.1 1342.9Z" fill="#2500ff" stroke="#2500ff" stroke-width="1"/>
<path d="M996.1 1317.1L1004.0 1325.6L924.1 1342.9L903.7 1337.0Z" fill="#0d00ff" stroke="#0d00ff" stroke-width="1"/>
<path d="M988.3 1308.6L996.1 1317.1L903.7 1337.0L883.2 1331.1Z" fill="#021eff" stroke="#021eff" stroke-width="1"/>
<path d="M980.5 1300.1L988.3 1308.6L883.2 1331.1L862.7 1325.1Z" fill="#0037ff" stroke="#0037ff" stroke-width="1"/>
<path d="M845.1 1320.0L846.9 1318.2L972.8 1291.7L980.5 1300.1L862.7 1325.1Z" fill="#004dff" stroke="#004dff" stroke-width="1"/>
<path d="M846.9 1318.2L860.1 1305.2L965.0 1283.3L972.8 1291.7Z" fill="#0063ff" stroke="#0063ff" stroke-width="1"/>
<path d="M860.1 1305.2L873.1 1292.4L957.3 1274.9L965.0 1283.3Z" fill="#007aff" stroke="#007aff" stroke-width="1"/>
<path d="M873.1 1292.4L885.9 1279.6L949.6 1266.6L957.3 1274.9Z" fill="#0094ff" stroke="#0094ff" stroke-width="1"/>
<path d="M885.9 1279.6L898.7 1267.0L941.9 1258.2L949.6 1266.6Z" fill="#00adff" stroke="#00adff" stroke-width="1"/>
<path d="M898.7 1267.0L911.3 1254.6L934.3 1249.9L941.9 1258.2Z" fill="#00c6ff" stroke="#00c6ff" stroke-width="1"/>
<path d="M911.3 1254.6L923.8 1242.2L926.6 1241.6L934.3 1249.9Z" fill="#00e1ff" stroke="#00e1ff" stroke-width="1"/>
<path d="M923.8 1242.2L925.5 1240.5L926.6 1241.6Z" fill="#00fafd" stroke="#00fafd" stroke-width="1"/>
<path d="M1027.6 1351.2L985.3 1360.6M860.1 1305.2L965.0 1283.3" fill="none" stroke="#222" stroke-opacity="0.45" stroke-width="1.3" stroke-linecap="round"/>
<path d="M842.2 1318.0L845.1 1320.0L843.9 1319.2Z" fill="#004dff" stroke="#004dff" stroke-width="1"/>
<path d="M821.9 1304.1L842.2 1318.0L843.9 1319.2L836.0 1313.7Z" fill="#0063ff" stroke="#0063ff" stroke-width="1"/>
<path d="M802.0 1290.3L821.9 1304.1L836.0 1313.7L828.1 1308.1Z" fill="#007aff" stroke="#007aff" stroke-width="1"/>
<path d="M782.2 1276.6L802.0 1290.3L828.1 1308.1L820.2 1302.5Z" fill="#0094ff" stroke="#0094ff" stroke-width="1"/>
<path d="M762.7 1263.1L782.2 1276.6L820.2 1302.5L812.2 1296.8Z" fill="#00adff" stroke="#00adff" stroke-width="1"/>
<path d="M743.3 1249.8L762.7 1263.1L812.2 1296.8L804.2 1291.2Z" fill="#00c6ff" stroke="#00c6ff" stroke-width="1"/>
<path d="M724.2 1236.6L743.3 1249.8L804.2 1291.2L796.3 1285.6Z" fill="#00e1ff" stroke="#00e1ff" stroke-width="1"/>
<path d="M717.8 1232.1L721.5 1234.7L724.2 1236.6L796.3 1285.6L788.2 1279.9Z" fill="#00fafd" stroke="#00fafd" stroke-width="1"/>
<path d="M713.5 1228.9L717.8 1232.1L788.2 1279.9L780.2 1274.3Z" fill="#00fed4" stroke="#00fed4" stroke-width="1"/>
<path d="M709.1 1225.7L713.5 1228.9L780.2 1274.3L772.2 1268.6Z" fill="#00fc99" stroke="#00fc99" stroke-width="1"/>
<path d="M704.7 1222.5L709.1 1225.7L772.2 1268.6L764.1 1262.9Z" fill="#00f95a" stroke="#00f95a" stroke-width="1"/>
<path d="M700.3 1219.3L704.7 1222.5L764.1 1262.9L756.1 1257.2Z" fill="#00f61e" stroke="#00f61e" stroke-width="1"/>
<path d="M695.8 1216.1L700.3 1219.3L756.1 1257.2L748.0 1251.5Z" fill="#0cf600" stroke="#0cf600" stroke-width="1"/>
<path d="M691.3 1212.8L695.8 1216.1L748.0 1251.5L739.9 1245.8Z" fill="#26f800" stroke="#26f800" stroke-width="1"/>
<path d="M686.8 1209.5L691.3 1212.8L739.9 1245.8L731.7 1240.0Z" fill="#3ff900" stroke="#3ff900" stroke-width="1"/>
<path d="M682.3 1206.2L686.8 1209.5L731.7 1240.0L723.6 1234.3Z" fill="#53fa00" stroke="#53fa00" stroke-width="1"/>
<path d="M677.7 1202.9L682.3 1206.2L723.6 1234.3L715.4 1228.5Z" fill="#66fb00" stroke="#66fb00" stroke-width="1"/>
<path d="M673.1 1199.6L677.7 1202.9L715.4 1228.5L707.3 1222.7Z" fill="#79fc00" stroke="#79fc00" stroke-width="1"/>
<path d="M668.5 1196.2L673.1 1199.6L707.3 1222.7L699.1 1217.0Z" fill="#8afc00" stroke="#8afc00" stroke-width="1"/>
<path d="M663.8 1192.8L668.5 1196.2L699.1 1217.0L690.8 1211.2Z" fill="#9afc00" stroke="#9afc00" stroke-width="1"/>
<path d="M659.1 1189.4L663.8 1192.8L690.8 1211.2L682.6 1205.3Z" fill="#abfd00" stroke="#abfd00" stroke-width="1"/>
<path d="M654.4 1186.0L659.1 1189.4L682.6 1205.3L674.4 1199.5Z" fill="#bbfd00" stroke="#bbfd00" stroke-width="1"/>
<path d="M649.7 1182.6L654.4 1186.0L674.4 1199.5L666.1 1193.7Z" fill="#cafd00" stroke="#cafd00" stroke-width="1"/>
<path d="M644.9 1179.1L649.7 1182.6L666.1 1193.7L657.8 1187.8Z" fill="#dafe00" stroke="#dafe00" stroke-width="1"/>
<path d="M640.1 1175.6L644.9 1179.1L657.8 1187.8L649.5 1182.0Z" fill="#e8fe00" stroke="#e8fe00" stroke-width="1"/>
<path d="M635.3 1172.1L640.1 1175.6L649.5 1182.0L641.2 1176.1Z" fill="#f8ff00" stroke="#f8ff00" stroke-width="1"/>
<path d="M630.4 1168.6L635.3 1172.1L641.2 1176.1L632.9 1170.2Z" fill="#fff600" stroke="#fff600" stroke-width="1"/>
<path d="M626.9 1166.0L630.4 1168.6L632.9 1170.2Z" fill="#ffe400" stroke="#ffe400" stroke-width="1"/>
<path d="M821.9 1304.1L836.0 1313.7M709.1 1225.7L772.2 1268.6M673.1 1199.6L707.3 1222.7M635.3 1172.1L641.2 1176.1" fill="none" stroke="#222" stroke-opacity="0.45" stroke-width="1.3" stroke-linecap="round"/>
<path d="M893.3 1515.4L930.7 1484.2L934.1 1481.9Z" fill="#6e0073" stroke="#6e0073" stroke-width="1"/>
<path d="M930.7 1484.2L967.0 1454.0L973.4 1449.6L934.1 1481.9Z" fill="#7b0088" stroke="#7b0088" stroke-width="1"/>
<path d="M967.0 1454.0L1002.0 1424.8L1011.3 1418.5L973.4 1449.6Z" fill="#83009c" stroke="#83009c" stroke-width="1"/>
<path d="M1002.0 1424.8L1035.9 1396.5L1047.9 1388.4L1011.3 1418.5Z" fill="#8800af" stroke="#8800af" stroke-width="1"/>
<path d="M1035.9 1396.5L1054.8 1380.8L1073.4 1366.1L1083.3 1359.3L1047.9 1388.4Z" fill="#8600c0" stroke="#8600c0" stroke-width="1"/>
<path d="M1073.4 1366.1L1115.3 1332.7L1117.5 1331.3L1083.3 1359.3Z" fill="#8500d1" stroke="#8500d1" stroke-width="1"/>
<path d="M1115.3 1332.7L1127.0 1323.4L1117.5 1331.3Z" fill="#7f00e3" stroke="#7f00e3" stroke-width="1"/>
<path d="M970.4 1433.3L977.2 1439.5L1016.8 1409.6Z" fill="#8800af" stroke="#8800af" stroke-width="1"/>
<path d="M958.6 1422.6L970.4 1433.3L1016.8 1409.6L1054.8 1380.8L1046.2 1378.3Z" fill="#8600c0" stroke="#8600c0" stroke-width="1"/>
<path d="M946.8 1412.0L958.6 1422.6L1046.2 1378.3L1025.9 1372.4Z" fill="#8500d1" stroke="#8500d1" stroke-width="1"/>
<path d="M935.1 1401.4L946.8 1412.0L1025.9 1372.4L1005.6 1366.5Z" fill="#7f00e3" stroke="#7f00e3" stroke-width="1"/>
<path d="M923.4 1390.8L935.1 1401.4L1005.6 1366.5L985.3 1360.6Z" fill="#7500f6" stroke="#7500f6" stroke-width="1"/>
<path d="M911.8 1380.3L923.4 1390.8L985.3 1360.6L964.9 1354.7Z" fill="#6100ff" stroke="#6100ff" stroke-width="1"/>
<path d="M900.3 1369.9L911.8 1380.3L964.9 1354.7L944.5 1348.8Z" fill="#4200ff" stroke="#4200ff" stroke-width="1"/>
<path d="M888.8 1359.5L900.3 1369.9L944.5 1348.8L924.1 1342.9Z" fill="#2500ff" stroke="#2500ff" stroke-width="1"/>
<path d="M877.4 1349.2L888.8 1359.5L924.1 1342.9L903.7 1337.0Z" fill="#0d00ff" stroke="#0d00ff" stroke-width="1"/>
<path d="M866.0 1339.0L877.4 1349.2L903.7 1337.0L883.2 1331.1Z" fill="#021eff" stroke="#021eff" stroke-width="1"/>
<path d="M854.7 1328.7L866.0 1339.0L883.2 1331.1L862.7 1325.1Z" fill="#0037ff" stroke="#0037ff" stroke-width="1"/>
<path d="M845.1 1320.0L854.7 1328.7L862.7 1325.1Z" fill="#004dff" stroke="#004dff" stroke-width="1"/>
<path d="M923.4 1390.8L985.3 1360.6" fill="none" stroke="#222" stroke-opacity="0.45" stroke-width="1.3" stroke-linecap="round"/>
<path d="M843.7 1320.1L845.1 1320.0L843.9 1319.2Z" fill="#004dff" stroke="#004dff" stroke-width="1"/>
<path d="M833.8 1320.4L843.7 1320.1L843.9 1319.2L836.0 1313.7Z" fill="#0063ff" stroke="#0063ff" stroke-width="1"/>
<path d="M823.9 1320.7L833.8 1320.4L836.0 1313.7L828.1 1308.1Z" fill="#007aff" stroke="#007aff" stroke-width="1"/>
<path d="M813.9 1321.1L823.9 1320.7L828.1 1308.1L820.2 1302.5Z" fill="#0094ff" stroke="#0094ff" stroke-width="1"/>
<path d="M803.7 1321.4L813.9 1321.1L820.2 1302.5L812.2 1296.8Z" fill="#00adff" stroke="#00adff" stroke-width="1"/>
<path d="M793.4 1321.7L803.7 1321.4L812.2 1296.8L804.2 1291.2Z" fill="#00c6ff" stroke="#00c6ff" stroke-width="1"/>
<path d="M783.0 1322.1L793.4 1321.7L804.2 1291.2L796.3 1285.6Z" fill="#00e1ff" stroke="#00e1ff" stroke-width="1"/>
<path d="M772.4 1322.4L783.0 1322.1L796.3 1285.6L788.2 1279.9Z" fill="#00fafd" stroke="#00fafd" stroke-width="1"/>
<path d="M761.7 1322.8L772.4 1322.4L788.2 1279.9L780.2 1274.3Z" fill="#00fed4" stroke="#00fed4" stroke-width="1"/>
<path d="M753.0 1317.9L757.1 1322.9L761.7 1322.8L780.2 1274.3L772.2 1268.6Z" fill="#00fc99" stroke="#00fc99" stroke-width="1"/>
<path d="M745.7 1309.2L753.0 1317.9L772.2 1268.6L764.1 1262.9Z" fill="#00f95a" stroke="#00f95a" stroke-width="1"/>
<path d="M738.5 1300.4L745.7 1309.2L764.1 1262.9L756.1 1257.2Z" fill="#00f61e" stroke="#00f61e" stroke-width="1"/>
<path d="M731.2 1291.7L738.5 1300.4L756.1 1257.2L748.0 1251.5Z" fill="#0cf600" stroke="#0cf600" stroke-width="1"/>
<path d="M724.0 1283.0L731.2 1291.7L748.0 1251.5L739.9 1245.8Z" fill="#26f800" stroke="#26f800" stroke-width="1"/>
<path d="M716.8 1274.4L724.0 1283.0L739.9 1245.8L731.7 1240.0Z" fill="#3ff900" stroke="#3ff900" stroke-width="1"/>
<path d="M709.7 1265.7L716.8 1274.4L731.7 1240.0L723.6 1234.3Z" fill="#53fa00" stroke="#53fa00" stroke-width="1"/>
<path d="M702.5 1257.1L709.7 1265.7L723.6 1234.3L715.4 1228.5Z" fill="#66fb00" stroke="#66fb00" stroke-width="1"/>
<path d="M695.4 1248.5L702.5 1257.1L715.4 1228.5L707.3 1222.7Z" fill="#79fc00" stroke="#79fc00" stroke-width="1"/>
<path d="M688.2 1239.9L695.4 1248.5L707.3 1222.7L699.1 1217.0Z" fill="#8afc00" stroke="#8afc00" stroke-width="1"/>
<path d="M681.1 1231.4L688.2 1239.9L699.1 1217.0L690.8 1211.2Z" fill="#9afc00" stroke="#9afc00" stroke-width="1"/>
<path d="M674.1 1222.8L681.1 1231.4L690.8 1211.2L682.6 1205.3Z" fill="#abfd00" stroke="#abfd00" stroke-width="1"/>
<path d="M667.0 1214.3L674.1 1222.8L682.6 1205.3L674.4 1199.5Z" fill="#bbfd00" stroke="#bbfd00" stroke-width="1"/>
<path d="M659.9 1205.8L667.0 1214.3L674.4 1199.5L666.1 1193.7Z" fill="#cafd00" stroke="#cafd00" stroke-width="1"/>
<path d="M652.9 1197.3L659.9 1205.8L666.1 1193.7L657.8 1187.8Z" fill="#dafe00" stroke="#dafe00" stroke-width="1"/>
<path d="M645.9 1188.9L652.9 1197.3L657.8 1187.8L649.5 1182.0Z" fill="#e8fe00" stroke="#e8fe00" stroke-width="1"/>
<path d="M638.9 1180.4L645.9 1188.9L649.5 1182.0L641.2 1176.1Z" fill="#f8ff00" stroke="#f8ff00" stroke-width="1"/>
<path d="M631.9 1172.0L638.9 1180.4L641.2 1176.1L632.9 1170.2Z" fill="#fff600" stroke="#fff600" stroke-width="1"/>
<path d="M626.9 1166.0L631.9 1172.0L632.9 1170.2Z" fill="#ffe400" stroke="#ffe400" stroke-width="1"/>
<path d="M833.8 1320.4L836.0 1313.7M753.0 1317.9L772.2 1268.6M695.4 1248.5L707.3 1222.7M638.9 1180.4L641.2 1176.1" fill="none" stroke="#222" stroke-opacity="0.45" stroke-width="1.3" stroke-linecap="round"/>
<path d="M970.4 1433.3L977.2 1439.5L971.1 1436.2Z" fill="#8800af" stroke="#8800af" stroke-width="1"/>
<path d="M958.6 1422.6L970.4 1433.3L971.1 1436.2L960.3 1430.5Z" fill="#8600c0" stroke="#8600c0" stroke-width="1"/>
<path d="M946.8 1412.0L958.6 1422.6L960.3 1430.5L949.4 1424.7Z" fill="#8500d1" stroke="#8500d1" stroke-width="1"/>
<path d="M935.1 1401.4L946.8 1412.0L949.4 1424.7L938.6 1419.0Z" fill="#7f00e3" stroke="#7f00e3" stroke-width="1"/>
<path d="M923.4 1390.8L935.1 1401.4L938.6 1419.0L927.7 1413.2Z" fill="#7500f6" stroke="#7500f6" stroke-width="1"/>
<path d="M911.8 1380.3L923.4 1390.8L927.7 1413.2L916.8 1407.5Z" fill="#6100ff" stroke="#6100ff" stroke-width="1"/>
<path d="M900.3 1369.9L911.8 1380.3L916.8 1407.5L905.9 1401.7Z" fill="#4200ff" stroke="#4200ff" stroke-width="1"/>
<path d="M888.8 1359.5L900.3 1369.9L905.9 1401.7L895.0 1395.9Z" fill="#2500ff" stroke="#2500ff" stroke-width="1"/>
<path d="M877.4 1349.2L888.8 1359.5L895.0 1395.9L884.0 1390.1Z" fill="#0d00ff" stroke="#0d00ff" stroke-width="1"/>
<path d="M866.0 1339.0L877.4 1349.2L884.0 1390.1L873.0 1384.3Z" fill="#021eff" stroke="#021eff" stroke-width="1"/>
<path d="M854.7 1328.7L866.0 1339.0L873.0 1384.3L862.0 1378.5Z" fill="#0037ff" stroke="#0037ff" stroke-width="1"/>
<path d="M843.7 1320.1L845.1 1320.0L854.7 1328.7L862.0 1378.5L851.0 1372.6Z" fill="#004dff" stroke="#004dff" stroke-width="1"/>
<path d="M833.8 1320.4L843.7 1320.1L851.0 1372.6L839.9 1366.8Z" fill="#0063ff" stroke="#0063ff" stroke-width="1"/>
<path d="M823.9 1320.7L833.8 1320.4L839.9 1366.8L828.9 1360.9Z" fill="#007aff" stroke="#007aff" stroke-width="1"/>
<path d="M813.9 1321.1L823.9 1320.7L828.9 1360.9L817.8 1355.0Z" fill="#0094ff" stroke="#0094ff" stroke-width="1"/>
<path d="M803.7 1321.4L813.9 1321.1L817.8 1355.0L806.7 1349.1Z" fill="#00adff" stroke="#00adff" stroke-width="1"/>
<path d="M793.4 1321.7L803.7 1321.4L806.7 1349.1L795.5 1343.2Z" fill="#00c6ff" stroke="#00c6ff" stroke-width="1"/>
<path d="M783.0 1322.1L793.4 1321.7L795.5 1343.2L784.3 1337.3Z" fill="#00e1ff" stroke="#00e1ff" stroke-width="1"/>
<path d="M772.4 1322.4L783.0 1322.1L784.3 1337.3L773.2 1331.4Z" fill="#00fafd" stroke="#00fafd" stroke-width="1"/>
<path d="M761.7 1322.8L772.4 1322.4L773.2 1331.4L761.9 1325.5Z" fill="#00fed4" stroke="#00fed4" stroke-width="1"/>
<path d="M757.1 1322.9L761.7 1322.8L761.9 1325.5Z" fill="#00fc99" stroke="#00fc99" stroke-width="1"/>
<path d="M923.4 1390.8L927.7 1413.2M833.8 1320.4L839.9 1366.8" fill="none" stroke="#222" stroke-opacity="0.45" stroke-width="1.3" stroke-linecap="round"/>
<path d="M893.3 1515.4L918.4 1492.7L930.7 1484.2Z" fill="#6e0073" stroke="#6e0073" stroke-width="1"/>
<path d="M918.4 1492.7L943.0 1470.4L967.0 1454.0L930.7 1484.2Z" fill="#7b0088" stroke="#7b0088" stroke-width="1"/>
<path d="M943.0 1470.4L967.1 1448.6L1002.0 1424.8L967.0 1454.0Z" fill="#83009c" stroke="#83009c" stroke-width="1"/>
<path d="M967.1 1448.6L977.2 1439.5L1016.8 1409.6L1035.9 1396.5L1002.0 1424.8Z" fill="#8800af" stroke="#8800af" stroke-width="1"/>
<path d="M1016.8 1409.6L1054.8 1380.8L1035.9 1396.5Z" fill="#8600c0" stroke="#8600c0" stroke-width="1"/>
<path d="M887.4 1507.0L893.3 1515.4L918.4 1492.7Z" fill="#6e0073" stroke="#6e0073" stroke-width="1"/>
<path d="M881.5 1498.7L887.4 1507.0L918.4 1492.7L943.0 1470.4Z" fill="#7b0088" stroke="#7b0088" stroke-width="1"/>
<path d="M875.6 1490.4L881.5 1498.7L943.0 1470.4L967.1 1448.6Z" fill="#83009c" stroke="#83009c" stroke-width="1"/>
<path d="M869.7 1482.1L875.6 1490.4L967.1 1448.6L977.2 1439.5L971.1 1436.2Z" fill="#8800af" stroke="#8800af" stroke-width="1"/>
<path d="M863.9 1473.8L869.7 1482.1L971.1 1436.2L960.3 1430.5Z" fill="#8600c0" stroke="#8600c0" stroke-width="1"/>
<path d="M858.0 1465.5L863.9 1473.8L960.3 1430.5L949.4 1424.7Z" fill="#8500d1" stroke="#8500d1" stroke-width="1"/>
<path d="M852.1 1457.2L858.0 1465.5L949.4 1424.7L938.6 1419.0Z" fill="#7f00e3" stroke="#7f00e3" stroke-width="1"/>
<path d="M846.3 1449.0L852.1 1457.2L938.6 1419.0L927.7 1413.2Z" fill="#7500f6" stroke="#7500f6" stroke-width="1"/>
<path d="M840.5 1440.7L846.3 1449.0L927.7 1413.2L916.8 1407.5Z" fill="#6100ff" stroke="#6100ff" stroke-width="1"/>
<path d="M834.6 1432.5L840.5 1440.7L916.8 1407.5L905.9 1401.7Z" fill="#4200ff" stroke="#4200ff" stroke-width="1"/>
<path d="M828.8 1424.2L834.6 1432.5L905.9 1401.7L895.0 1395.9Z" fill="#2500ff" stroke="#2500ff" stroke-width="1"/>
<path d="M823.0 1416.0L828.8 1424.2L895.0 1395.9L884.0 1390.1Z" fill="#0d00ff" stroke="#0d00ff" stroke-width="1"/>
<path d="M817.2 1407.8L823.0 1416.0L884.0 1390.1L873.0 1384.3Z" fill="#021eff" stroke="#021eff" stroke-width="1"/>
<path d="M811.4 1399.6L817.2 1407.8L873.0 1384.3L862.0 1378.5Z" fill="#0037ff" stroke="#0037ff" stroke-width="1"/>
<path d="M805.6 1391.4L811.4 1399.6L862.0 1378.5L851.0 1372.6Z" fill="#004dff" stroke="#004dff" stroke-width="1"/>
<path d="M799.8 1383.3L805.6 1391.4L851.0 1372.6L839.9 1366.8Z" fill="#0063ff" stroke="#0063ff" stroke-width="1"/>
<path d="M794.1 1375.1L799.8 1383.3L839.9 1366.8L828.9 1360.9Z" fill="#007aff" stroke="#007aff" stroke-width="1"/>
<path d="M788.3 1367.0L794.1 1375.1L828.9 1360.9L817.8 1355.0Z" fill="#0094ff" stroke="#0094ff" stroke-width="1"/>
<path d="M782.5 1358.8L788.3 1367.0L817.8 1355.0L806.7 1349.1Z" fill="#00adff" stroke="#00adff" stroke-width="1"/>
<path d="M776.8 1350.7L782.5 1358.8L806.7 1349.1L795.5 1343.2Z" fill="#00c6ff" stroke="#00c6ff" stroke-width="1"/>
<path d="M771.0 1342.6L776.8 1350.7L795.5 1343.2L784.3 1337.3Z" fill="#00e1ff" stroke="#00e1ff" stroke-width="1"/>
<path d="M765.3 1334.5L771.0 1342.6L784.3 1337.3L773.2 1331.4Z" fill="#00fafd" stroke="#00fafd" stroke-width="1"/>
<path d="M759.6 1326.4L765.3 1334.5L773.2 1331.4L761.9 1325.5Z" fill="#00fed4" stroke="#00fed4" stroke-width="1"/>
<path d="M757.1 1322.9L759.6 1326.4L761.9 1325.5Z" fill="#00fc99" stroke="#00fc99" stroke-width="1"/>
<path d="M846.3 1449.0L927.7 1413.2M799.8 1383.3L839.9 1366.8" fill="none" stroke="#222" stroke-opacity="0.45" stroke-width="1.3" stroke-linecap="round"/>
<path d="M920.4 1584.9L537.0 1390.6M920.4 1584.9L1226.1 1360.7M537.0 1390.6L500.2 922.5M1226.1 1360.7L1263.0 901.7M848.9 1548.6L856.1 1543.6M780.7 1514.1L784.6 1511.5M715.6 1481.1L722.9 1476.5M653.4 1449.6L657.3 1447.3M594.0 1419.4L601.4 1415.3M964.4 1552.7L960.4 1550.7M1006.4 1521.8L997.8 1517.7M1046.8 1492.2L1042.9 1490.4M1085.6 1463.8L1077.0 1460.0M1122.8 1436.5L1118.9 1434.8M1158.6 1410.3L1150.2 1406.8M1193.0 1385.0L1189.2 1383.5M1229.1 1323.5L1220.5 1320.2M1235.1 1249.1L1226.3 1246.0M1241.3 1172.1L1232.3 1169.1M1247.7 1092.4L1238.5 1089.6M1254.3 1009.9L1245.0 1007.3M1261.2 924.3L1251.7 921.9" fill="none" stroke="#0a0a0a" stroke-width="2.6" stroke-linecap="round" stroke-linejoin="round"/>
<text transform="matrix(0.8910 0.4540 -0.8557 0.5313 671.7 1514.6)" text-anchor="middle" y="7.0" class="t3" xml:space="preserve"><tspan font-size="24.49">Initial </tspan><tspan font-size="25.61">water </tspan><tspan font-size="27.31">content(%)</tspan></text>
<text transform="matrix(0.8235 -0.5672 1.1432 0.5047 1137.0 1490.5)" text-anchor="middle" y="6.1" class="t3" xml:space="preserve"><tspan font-size="24.29">Fine </tspan><tspan font-size="23.05">particle </tspan><tspan font-size="21.33">content(%)</tspan></text>
<text transform="matrix(0.0920 -0.9958 0.9469 0.3060 1289.3 1145.0)" text-anchor="middle" y="7.6" class="t3" xml:space="preserve"><tspan font-size="26.51">Frost-heaving </tspan><tspan font-size="28.47">deformation </tspan><tspan font-size="30.16">rate(%)</tspan></text>
<text transform="matrix(0.1884 -0.1061 0.1746 0.0898 575.0 1430.0)" font-size="100" text-anchor="middle" y="33" class="k3">12</text>
<text transform="matrix(0.1870 -0.1161 0.1910 0.0982 696.9 1492.5)" font-size="100" text-anchor="middle" y="33" class="k3">10</text>
<text transform="matrix(0.1838 -0.1271 0.2099 0.1076 834.6 1558.5)" font-size="100" text-anchor="middle" y="33" class="k3">8</text>
<text transform="matrix(0.2222 0.1126 -0.1792 0.1331 935.5 1593.0)" font-size="100" text-anchor="middle" y="33" class="k3">6</text>
<text transform="matrix(0.2189 0.1033 -0.1644 0.1221 1022.0 1529.0)" font-size="100" text-anchor="middle" y="33" class="k3">8</text>
<text transform="matrix(0.2166 0.0957 -0.1512 0.1131 1108.6 1474.6)" font-size="100" text-anchor="middle" y="33" class="k3">10</text>
<text transform="matrix(0.2129 0.0884 -0.1395 0.1044 1182.0 1420.0)" font-size="100" text-anchor="middle" y="33" class="k3">12</text>
<text transform="matrix(0.2092 0.0820 -0.1293 0.0968 1249.6 1370.0)" font-size="100" text-anchor="middle" y="33" class="k3">14</text>
<text transform="matrix(0.2318 0.0595 -0.0212 0.2524 1278.6 929.5)" font-size="100" text-anchor="middle" y="33" class="k3">6</text>
<text transform="matrix(0.2272 0.0642 -0.0205 0.2435 1271.5 1014.0)" font-size="100" text-anchor="middle" y="33" class="k3">5</text>
<text transform="matrix(0.2227 0.0687 -0.0198 0.2348 1265.0 1098.8)" font-size="100" text-anchor="middle" y="33" class="k3">4</text>
<text transform="matrix(0.2186 0.0725 -0.0191 0.2272 1258.3 1173.8)" font-size="100" text-anchor="middle" y="33" class="k3">3</text>
<text transform="matrix(0.2145 0.0763 -0.0185 0.2196 1251.8 1250.8)" font-size="100" text-anchor="middle" y="33" class="k3">2</text>
<text transform="matrix(0.2103 0.0799 -0.0179 0.2119 1245.5 1329.0)" font-size="100" text-anchor="middle" y="33" class="k3">1</text>
<g shape-rendering="crispEdges">
<rect x="1353.5" y="886.00" width="65.5" height="6.5" fill="#000"/>
<rect x="1353.5" y="891.50" width="65.5" height="6.75" fill="#6e0073"/>
<rect x="1353.5" y="897.75" width="65.5" height="6.75" fill="#7b0088"/>
<rect x="1353.5" y="904.00" width="65.5" height="6.75" fill="#83009c"/>
<rect x="1353.5" y="910.25" width="65.5" height="6.75" fill="#8800af"/>
<rect x="1353.5" y="916.50" width="65.5" height="6.75" fill="#8600c0"/>
<rect x="1353.5" y="922.75" width="65.5" height="6.75" fill="#8500d1"/>
<rect x="1353.5" y="929.00" width="65.5" height="6.75" fill="#7f00e3"/>
<rect x="1353.5" y="935.25" width="65.5" height="6.75" fill="#7500f6"/>
<rect x="1353.5" y="941.50" width="65.5" height="6.75" fill="#6100ff"/>
<rect x="1353.5" y="947.75" width="65.5" height="6.75" fill="#4200ff"/>
<rect x="1353.5" y="954.00" width="65.5" height="6.75" fill="#2500ff"/>
<rect x="1353.5" y="960.25" width="65.5" height="6.75" fill="#0d00ff"/>
<rect x="1353.5" y="966.50" width="65.5" height="6.75" fill="#021eff"/>
<rect x="1353.5" y="972.75" width="65.5" height="6.75" fill="#0037ff"/>
<rect x="1353.5" y="979.00" width="65.5" height="6.75" fill="#004dff"/>
<rect x="1353.5" y="985.25" width="65.5" height="6.75" fill="#0063ff"/>
<rect x="1353.5" y="991.50" width="65.5" height="6.75" fill="#007aff"/>
<rect x="1353.5" y="997.75" width="65.5" height="6.75" fill="#0094ff"/>
<rect x="1353.5" y="1004.00" width="65.5" height="6.75" fill="#00adff"/>
<rect x="1353.5" y="1010.25" width="65.5" height="6.75" fill="#00c6ff"/>
<rect x="1353.5" y="1016.50" width="65.5" height="6.75" fill="#00e1ff"/>
<rect x="1353.5" y="1022.75" width="65.5" height="6.75" fill="#00fafd"/>
<rect x="1353.5" y="1029.00" width="65.5" height="6.75" fill="#00fed4"/>
<rect x="1353.5" y="1035.25" width="65.5" height="6.75" fill="#00fc99"/>
<rect x="1353.5" y="1041.50" width="65.5" height="6.75" fill="#00f95a"/>
<rect x="1353.5" y="1047.75" width="65.5" height="6.75" fill="#00f61e"/>
<rect x="1353.5" y="1054.00" width="65.5" height="6.75" fill="#0cf600"/>
<rect x="1353.5" y="1060.25" width="65.5" height="6.75" fill="#26f800"/>
<rect x="1353.5" y="1066.50" width="65.5" height="6.75" fill="#3ff900"/>
<rect x="1353.5" y="1072.75" width="65.5" height="6.75" fill="#53fa00"/>
<rect x="1353.5" y="1079.00" width="65.5" height="6.75" fill="#66fb00"/>
<rect x="1353.5" y="1085.25" width="65.5" height="6.75" fill="#79fc00"/>
<rect x="1353.5" y="1091.50" width="65.5" height="6.75" fill="#8afc00"/>
<rect x="1353.5" y="1097.75" width="65.5" height="6.75" fill="#9afc00"/>
<rect x="1353.5" y="1104.00" width="65.5" height="6.75" fill="#abfd00"/>
<rect x="1353.5" y="1110.25" width="65.5" height="6.75" fill="#bbfd00"/>
<rect x="1353.5" y="1116.50" width="65.5" height="6.75" fill="#cafd00"/>
<rect x="1353.5" y="1122.75" width="65.5" height="6.75" fill="#dafe00"/>
<rect x="1353.5" y="1129.00" width="65.5" height="6.75" fill="#e8fe00"/>
<rect x="1353.5" y="1135.25" width="65.5" height="6.75" fill="#f8ff00"/>
<rect x="1353.5" y="1141.50" width="65.5" height="6.75" fill="#fff600"/>
<rect x="1353.5" y="1147.75" width="65.5" height="6.75" fill="#ffe400"/>
<rect x="1353.5" y="1154.00" width="65.5" height="6.75" fill="#ffd200"/>
<rect x="1353.5" y="1160.25" width="65.5" height="6.75" fill="#ffc000"/>
<rect x="1353.5" y="1166.50" width="65.5" height="6.75" fill="#ffae00"/>
<rect x="1353.5" y="1172.75" width="65.5" height="6.75" fill="#ff9b00"/>
<rect x="1353.5" y="1179.00" width="65.5" height="6.75" fill="#ff8900"/>
<rect x="1353.5" y="1185.25" width="65.5" height="6.75" fill="#ff7700"/>
<rect x="1353.5" y="1191.50" width="65.5" height="6.75" fill="#ff6200"/>
<rect x="1353.5" y="1197.75" width="65.5" height="6.75" fill="#ff4b00"/>
<rect x="1353.5" y="1204.00" width="65.5" height="6.75" fill="#ff3400"/>
<rect x="1353.5" y="1210.25" width="65.5" height="6.75" fill="#ff1d00"/>
<rect x="1353.5" y="1216.50" width="65.5" height="6.75" fill="#ff0700"/>
<rect x="1353.5" y="1222.75" width="65.5" height="6.75" fill="#ff0000"/>
<rect x="1353.5" y="1229.00" width="65.5" height="6.75" fill="#ff0000"/>
<rect x="1353.5" y="1235.25" width="65.5" height="6.75" fill="#fe0000"/>
<rect x="1353.5" y="1241.50" width="65.5" height="6.75" fill="#fe0000"/>
<rect x="1353.5" y="1247.75" width="65.5" height="6.75" fill="#fe0000"/>
<rect x="1353.5" y="1254.00" width="65.5" height="6.75" fill="#fd0000"/>
<rect x="1353.5" y="1260.25" width="65.5" height="6.75" fill="#fd0000"/>
<rect x="1353.5" y="1266.50" width="65.5" height="6.75" fill="#fd0000"/>
<rect x="1353.5" y="1272.75" width="65.5" height="6.75" fill="#fd0000"/>
<rect x="1353.5" y="1279.00" width="65.5" height="6.75" fill="#fc0000"/>
<rect x="1353.5" y="1285.25" width="65.5" height="6.75" fill="#fc0000"/>
<rect x="1353.5" y="1291.50" width="65.5" height="6.75" fill="#f80000"/>
<rect x="1353.5" y="1297.75" width="65.5" height="6.75" fill="#f10000"/>
<rect x="1353.5" y="1304.00" width="65.5" height="6.75" fill="#e90000"/>
<rect x="1353.5" y="1310.25" width="65.5" height="6.75" fill="#e10000"/>
<rect x="1353.5" y="1316.50" width="65.5" height="6.75" fill="#d60000"/>
<rect x="1353.5" y="1322.75" width="65.5" height="6.75" fill="#cc0000"/>
<rect x="1353.5" y="1329.00" width="65.5" height="6.75" fill="#c20000"/>
<rect x="1353.5" y="1335.25" width="65.5" height="6.75" fill="#b70000"/>
<rect x="1353.5" y="1341.50" width="65.5" height="6.75" fill="#ae0000"/>
<rect x="1353.5" y="1347.75" width="65.5" height="6.75" fill="#a50000"/>
<rect x="1353.5" y="1354.00" width="65.5" height="6.75" fill="#9c0000"/>
<rect x="1353.5" y="1360.25" width="65.5" height="6.75" fill="#930000"/>
<rect x="1353.5" y="1366.50" width="65.5" height="6.75" fill="#8b0000"/>
<rect x="1353.5" y="1372.75" width="65.5" height="6.75" fill="#810000"/>
<rect x="1353.5" y="1379.00" width="65.5" height="6.75" fill="#780000"/>
<rect x="1353.5" y="1385.25" width="65.5" height="6.75" fill="#6f0000"/>
</g>
<text x="1428.5" y="900.1" class="cb">0.5200</text>
<text x="1428.5" y="950.1" class="cb">1.080</text>
<text x="1428.5" y="1000.1" class="cb">1.640</text>
<text x="1428.5" y="1050.1" class="cb">2.200</text>
<text x="1428.5" y="1100.1" class="cb">2.760</text>
<text x="1428.5" y="1150.1" class="cb">3.320</text>
<text x="1428.5" y="1200.1" class="cb">3.880</text>
<text x="1428.5" y="1250.1" class="cb">4.440</text>
<text x="1428.5" y="1300.1" class="cb">5.000</text>
<text x="1428.5" y="1350.1" class="cb">5.560</text>
<text x="1428.5" y="1400.1" class="cb">6.120</text>
</g>
<text x="917" y="1655.2" text-anchor="middle" class="tag">(c)</text>
</svg></body></html>
